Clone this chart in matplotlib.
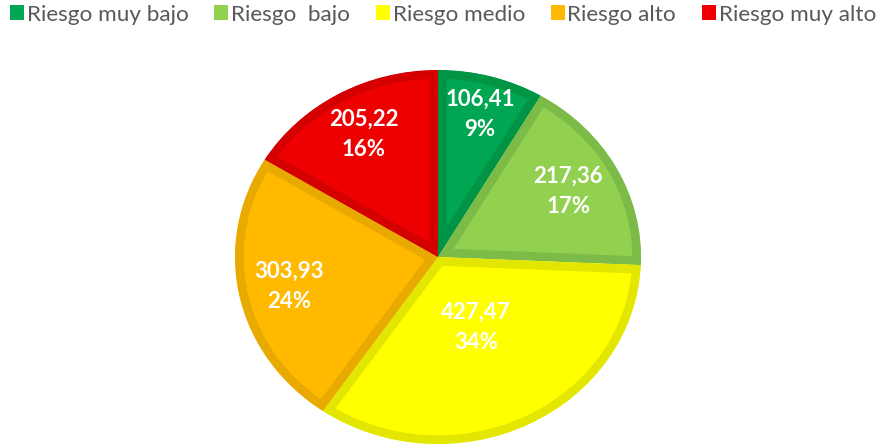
import numpy as np
import matplotlib
matplotlib.use("Agg")
import matplotlib.pyplot as plt

categories = ["Riesgo muy bajo", "Riesgo  bajo", "Riesgo medio", "Riesgo alto", "Riesgo muy alto"]
values = [106.41, 217.36, 427.47, 303.93, 205.22]
value_labels = ["106,41", "217,36", "427,47", "303,93", "205,22"]
pct_labels = ["9%", "17%", "34%", "24%", "16%"]

fill_colors = ["#00A651", "#92D050", "#FFFF00", "#FFBA00", "#EE0000"]
edge_colors = ["#009444", "#7DBB48", "#E2E600", "#E8A900", "#D40000"]
label_dist = [0.79, 0.73, 0.42, 0.75, 0.75]

fig = plt.figure(figsize=(8.79, 4.45), dpi=100)
ax = fig.add_axes([0, 0, 1, 1])

wedges, _ = ax.pie(values, colors=fill_colors, startangle=90, counterclock=False,
                   radius=1.0, wedgeprops=dict(linewidth=12.5, joinstyle="round"))
for w, ec in zip(wedges, edge_colors):
    w.set_edgecolor(ec)
    w.set_clip_on(True)
    w.set_clip_path(w)

ax.set_aspect("auto")
ax.set_xlim(-438 / 203, (879 - 438) / 203)
ax.set_ylim((257 - 445) / 187, 257 / 187)
ax.axis("off")

for w, vl, pl, d in zip(wedges, value_labels, pct_labels, label_dist):
    ang = np.deg2rad((w.theta1 + w.theta2) / 2)
    x, y = d * np.cos(ang), d * np.sin(ang)
    ax.text(x, y, vl + "\n" + pl, ha="center", va="center", color="white",
            fontsize=16, fontweight="bold", family="Lato", linespacing=1.55)

leg = fig.legend(wedges, categories, loc="upper center", bbox_to_anchor=(0.504, 1.035), ncol=5,
                 frameon=False, prop={"family": "Lato", "size": 16.2},
                 handlelength=0.62, handleheight=0.62, handletextpad=0.12, columnspacing=1.15,
                 labelcolor="#595959")
for h, c in zip(leg.legend_handles, fill_colors):
    h.set_edgecolor("none")
    h.set_linewidth(0)
    h.set_clip_on(False)

fig.savefig("out.png", dpi=100)
